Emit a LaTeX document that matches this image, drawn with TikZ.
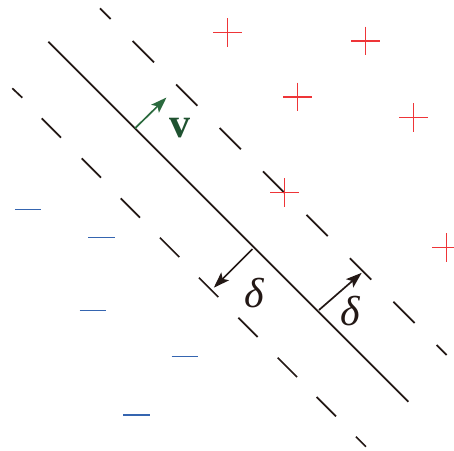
\documentclass[tikz,border=0pt]{standalone}
\usepackage{fontspec}
\setmainfont{Liberation Serif}
\usetikzlibrary{arrows.meta}
\definecolor{ink}{HTML}{231815}
\definecolor{pred}{HTML}{EE3538}
\definecolor{pblue}{HTML}{3565B0}
\definecolor{vgreen}{HTML}{2B6A3E}
\definecolor{vtext}{HTML}{1F5230}
\begin{document}
\begin{tikzpicture}[x=1pt,y=-1pt,
  sepline/.style={ink,line width=1.7pt},
  mdash/.style={ink,line width=1.7pt},
  plusmark/.style={pred,line width=1.4pt},
  minusmark/.style={pblue,line width=1.4pt},
  darrow/.style={ink,line width=1.7pt,-{Stealth[length=16pt,width=11pt,inset=3.5pt]}},
  garrow/.style={vgreen,line width=1.7pt,-{Stealth[length=16pt,width=11pt,inset=3.5pt]}},
  lbl/.style={font=\fontsize{42}{42}\selectfont\itshape,text=ink,inner sep=0pt}]
\useasboundingbox (0,0) rectangle (454,450);
\clip (0,0) rectangle (454,450);
% separating line
\coordinate (s0) at (48.3,41.7);
\coordinate (s1) at (408.3,401.7);
\draw[sepline] (s0) -- (s1);
% upper margin (dashed)
\draw[mdash] (100,8.3) -- (110.7,19);
\foreach \k in {0,...,6}{
  \pgfmathsetmacro{\xa}{132.7+43.45*\k}
  \draw[mdash] (\xa,\xa-91.7) -- (\xa+21.3,\xa-70.4);
}
\draw[mdash] (436.7,345) -- (446.7,355);
% lower margin (dashed)
\draw[mdash] (12.3,88.3) -- (22.3,97.7);
\draw[mdash] (41.7,118.3) -- (61,137.7);
\draw[mdash] (81.7,158.3) -- (101,177.7);
\draw[mdash] (120.7,198.3) -- (140,217.7);
\draw[mdash] (160,237.7) -- (179.3,257);
\draw[mdash] (199,277.7) -- (218.3,297);
\draw[mdash] (238.3,317.7) -- (257.7,337);
\draw[mdash] (277.7,357.7) -- (297,377);
\draw[mdash] (316.7,397) -- (336,416.3);
\draw[mdash] (356,436.7) -- (366,446.7);
% plus points
\foreach \x/\y in {227.3/32.7,365.7/41,297.3/97,413.7/117.7,284.3/192.7,446.7/247.7}{
  \draw[plusmark] (\x-14.3,\y) -- (\x+14.3,\y) (\x,\y-14.3) -- (\x,\y+14.3);
}
% minus points
\foreach \x/\y in {28/209.7,101.5/237.7,92.7/310.3,184.8/356.3,136.5/415}{
  \draw[minusmark] (\x-13.2,\y) -- (\x+13.2,\y);
}
% normal vector v
\coordinate (v0) at (135,128.3);
\coordinate (v1) at (166.5,97.5);
\draw[garrow] (v0) -- (v1);
\node[font=\fontsize{42}{42}\selectfont\bfseries,text=vtext,inner sep=0pt] (vl) at (180,128) {v};
% margin arrows
\coordinate (a0) at (252.5,249);
\coordinate (a1) at (213.8,287.7);
\draw[darrow] (a0) -- (a1);
\coordinate (b0) at (319,310);
\coordinate (b1) at (361.7,272.8);
\draw[darrow] (b0) -- (b1);
\node[lbl] (d1) at (254,293) {δ};
\node[lbl] (d2) at (350.7,311) {δ};
\end{tikzpicture}
\end{document}
